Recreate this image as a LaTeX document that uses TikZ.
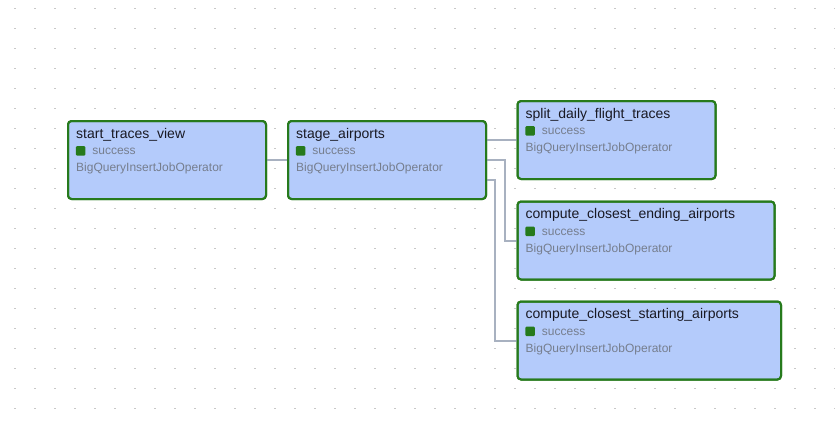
\documentclass[tikz,border=0pt]{standalone}
\usepackage{fontspec}
\setmainfont{Liberation Sans}
\usetikzlibrary{calc}
\definecolor{boxfill}{RGB}{180,203,251}
\definecolor{boxline}{RGB}{38,122,28}
\definecolor{edgec}{RGB}{168,177,192}
\definecolor{dotc}{RGB}{200,200,200}
\definecolor{titlec}{RGB}{25,25,35}
\definecolor{greyc}{RGB}{118,126,142}
\definecolor{sqc}{RGB}{38,122,28}
\tikzset{
  task/.style={draw=boxline, fill=boxfill, line width=2pt, rounded corners=3.5pt,
    minimum height=78pt, inner sep=0pt, outer sep=0pt, anchor=north west},
  ttl/.style={anchor=base west, inner sep=0pt, text=titlec, font=\fontsize{14}{16}\selectfont},
  stat/.style={anchor=base west, inner sep=0pt, text=greyc, font=\fontsize{12}{14}\selectfont},
  opr/.style={anchor=base west, inner sep=0pt, text=greyc, font=\fontsize{12}{14}\selectfont},
  sq/.style={fill=sqc, rounded corners=1pt, minimum size=9.4pt, inner sep=0pt, anchor=north west},
  edge/.style={draw=edgec, line width=2pt},
}
\begin{document}
\begin{tikzpicture}[x=1pt,y=-1pt]
\useasboundingbox (0,0) rectangle (835,421);
\fill[white] (0,0) rectangle (835,421);
\foreach \i in {0,...,41}{
  \foreach \j in {0,...,20}{
    \fill[dotc] (14+20*\i,7.5+20*\j) rectangle ++(2,1);
  }
}
% boxes
\node[task, minimum width=198pt] (start) at (68,121) {};
\node[task, minimum width=198pt] (stage) at (288,121) {};
\node[task, minimum width=198pt] (split) at (517.5,101) {};
\node[task, minimum width=257pt] (ending) at (517.5,201.5) {};
\node[task, minimum width=263.5pt] (starting) at (517.5,301.5) {};
% edges
\draw[edge] (start.east) -- (stage.west);
\draw[edge] (stage.east |- split.west) -- (split.west);
\draw[edge] (stage.east) -- ++(19,0) |- (ending.west);
\draw[edge] ($(stage.east)+(0,20)$) -- ++(9,0) |- (starting.west);
% redraw box outlines over edge ends
\foreach \b in {start,stage,split,ending,starting}{
  \draw[draw=boxline, line width=2pt, rounded corners=3.5pt] (\b.north west) rectangle (\b.south east);
}
% texts
\node[ttl] (t-start) at ($(start.north west)+(8,17.3)$) {start\_traces\_view};
\node[sq] (q-start) at ($(start.north west)+(7.7,25)$) {};
\node[stat] (s-start) at ($(start.north west)+(24.2,33.7)$) {success};
\node[opr] (o-start) at ($(start.north west)+(8,50.7)$) {BigQueryInsertJobOperator};

\node[ttl] (t-stage) at ($(stage.north west)+(8,17.3)$) {stage\_airports};
\node[sq] (q-stage) at ($(stage.north west)+(7.7,25)$) {};
\node[stat] (s-stage) at ($(stage.north west)+(24.2,33.7)$) {success};
\node[opr] (o-stage) at ($(stage.north west)+(8,50.7)$) {BigQueryInsertJobOperator};

\node[ttl] (t-split) at ($(split.north west)+(8,17.3)$) {split\_daily\_flight\_traces};
\node[sq] (q-split) at ($(split.north west)+(7.7,25)$) {};
\node[stat] (s-split) at ($(split.north west)+(24.2,33.7)$) {success};
\node[opr] (o-split) at ($(split.north west)+(8,50.7)$) {BigQueryInsertJobOperator};

\node[ttl] (t-ending) at ($(ending.north west)+(8,17.3)$) {compute\_closest\_ending\_airports};
\node[sq] (q-ending) at ($(ending.north west)+(7.7,25)$) {};
\node[stat] (s-ending) at ($(ending.north west)+(24.2,33.7)$) {success};
\node[opr] (o-ending) at ($(ending.north west)+(8,50.7)$) {BigQueryInsertJobOperator};

\node[ttl] (t-starting) at ($(starting.north west)+(8,17.3)$) {compute\_closest\_starting\_airports};
\node[sq] (q-starting) at ($(starting.north west)+(7.7,25)$) {};
\node[stat] (s-starting) at ($(starting.north west)+(24.2,33.7)$) {success};
\node[opr] (o-starting) at ($(starting.north west)+(8,50.7)$) {BigQueryInsertJobOperator};
\end{tikzpicture}
\end{document}
